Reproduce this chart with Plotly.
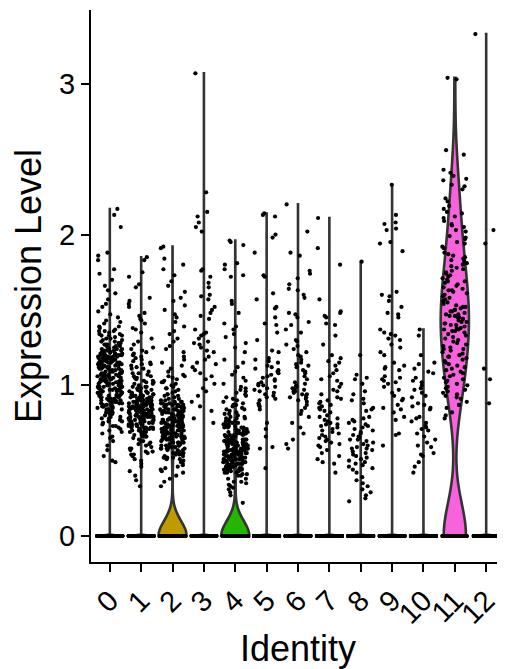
import math
import plotly.graph_objects as go

identities = ['0', '1', '2', '3', '4', '5', '6', '7', '8', '9', '10', '11', '12']
colors = ['#F8766D', '#E18A00', '#BE9C00', '#8CAB00', '#24B700', '#00BE70', '#00C1AB',
          '#00BBDA', '#00ACFC', '#8B93FF', '#D575FE', '#F962DD', '#FF65AC']

# number of cells with zero expression per identity
zero_cells = [700, 700, 1500, 300, 1500, 450, 450, 450, 450, 350, 350, 55, 200]
# KDE bandwidth used for each violin
bandwidths = [0.004, 0.004, 0.10, 0.004, 0.10, 0.004, 0.004, 0.004, 0.004, 0.004, 0.004, 0.22, 0.004]

# non-zero expression values per identity
expr_0 = [2.17, 2.13, 2.05, 1.88, 1.86, 1.83, 1.77, 1.74, 1.70, 1.66, 1.63, 1.61, 1.57, 1.54, 1.52, 1.49, 1.47, 1.45, 1.43, 1.41,
          1.39, 1.27, 1.33, 1.36, 1.29, 1.31, 1.38, 1.26, 1.34, 1.28, 1.35, 1.30, 1.37, 1.25, 1.32, 1.28, 1.36, 1.27, 1.33, 1.30,
          1.21, 1.14, 1.19, 1.23, 1.12, 1.17, 1.24, 1.11, 1.20, 1.15, 1.22, 1.13, 1.18, 1.16, 1.24, 1.10, 1.19, 1.14, 1.21, 1.17,
          1.12, 1.23, 1.15, 1.20, 1.11, 1.18, 1.13, 1.22, 1.16, 1.19, 1.14, 1.21, 1.12, 1.17, 1.23, 1.10, 1.18, 1.15, 1.20, 1.13,
          1.06, 0.99, 1.03, 1.08, 0.97, 1.01, 1.09, 0.96, 1.04, 1.00, 1.07, 0.98, 1.02, 1.05, 0.95, 1.08, 1.01, 1.04, 0.97, 1.06,
          0.99, 1.03, 1.09, 0.96, 1.02, 1.07, 1.00, 1.05, 0.98, 1.04, 1.01, 1.06, 0.97, 1.08, 1.03, 0.99, 1.05, 1.02, 0.96, 1.07,
          0.91, 0.86, 0.93, 0.82, 0.89, 0.94, 0.84, 0.88, 0.92, 0.81, 0.87, 0.90, 0.85, 0.93, 0.83, 0.89, 0.91, 0.86, 0.80, 0.88,
          0.94, 0.84, 0.90, 0.87, 0.92,
          0.78, 0.74, 0.71, 0.76, 0.69, 0.79, 0.73, 0.66, 0.77, 0.70, 0.63, 0.75, 0.60, 0.68, 0.57, 0.53, 0.50, 0.72, 0.65, 0.49,
          1.18, 0.97, 1.05, 1.22, 0.88, 1.11, 1.27, 0.93, 1.02, 1.16, 0.84, 1.09, 1.24, 0.99, 1.13, 0.91, 1.20, 1.04, 0.86, 1.15,
          1.26, 0.95, 1.07, 1.19, 0.82, 1.12, 1.01, 1.23, 0.90, 1.06, 1.17, 0.98, 1.29, 0.87, 1.10, 1.03, 1.21, 0.94, 1.14, 1.08,
          0.89, 1.25, 1.00, 1.16, 0.85, 1.12, 0.96, 1.19, 1.05, 0.92, 1.28, 1.09, 0.83, 1.14, 1.02, 1.22, 0.97, 1.07, 1.18, 0.90,
          1.31, 1.04, 0.95, 1.11, 1.24, 0.88, 1.15, 1.01, 1.20, 0.93, 1.08, 1.26, 0.99, 1.13, 0.86, 1.17, 1.06, 0.94, 1.21, 1.03,
          0.78, 1.34, 0.81, 1.39, 0.76, 1.42, 0.73, 1.36, 0.79, 1.33]
expr_1 = [1.85, 1.83, 1.75, 1.72, 1.67, 1.65, 1.58, 1.56, 1.54, 1.52, 1.48, 1.46, 1.44, 1.43, 1.41, 1.38, 1.37, 1.35, 1.31, 1.29,
          1.27, 1.24, 1.22, 1.20, 1.25, 1.18, 1.16, 1.21, 1.13, 1.19, 1.15, 1.11, 1.23, 1.17, 1.12, 1.14,
          1.08, 1.03, 0.99, 1.06, 1.01, 0.97, 1.09, 1.04, 0.96, 1.02, 1.07, 0.98, 1.05, 1.00, 0.95, 1.03, 0.99, 1.06,
          0.91, 0.86, 0.93, 0.82, 0.88, 0.94, 0.84, 0.89, 0.81, 0.92, 0.87, 0.83, 0.90, 0.85, 0.93, 0.80, 0.88, 0.91,
          0.86, 0.84, 0.89, 0.82, 0.94, 0.87, 0.90, 0.85, 0.92, 0.81, 0.88, 0.83, 0.86, 0.91, 0.84, 0.89, 0.80,
          0.77, 0.73, 0.79, 0.70, 0.75, 0.68, 0.78, 0.72, 0.66, 0.76, 0.71, 0.74, 0.69, 0.79, 0.67, 0.73, 0.77, 0.70,
          0.75, 0.65, 0.72, 0.78, 0.68, 0.74, 0.71, 0.76, 0.69, 0.73, 0.66, 0.77,
          0.63, 0.61, 0.58, 0.64, 0.56, 0.60, 0.53, 0.62, 0.55, 0.51, 0.59, 0.48, 0.54, 0.46, 0.50, 0.43, 0.57, 0.40, 0.37, 0.33,
          0.84, 0.77, 0.91, 0.72, 0.88, 0.81, 0.95, 0.69, 0.86, 0.79, 0.93, 0.74, 0.89, 0.82, 0.97, 0.67, 0.85, 0.78, 0.92, 0.71,
          0.87, 0.80, 0.96, 0.73, 0.90, 0.83, 0.76, 0.94, 0.70, 0.86, 0.79, 0.99, 0.75, 0.88, 0.81, 0.68, 0.92, 0.84, 0.77, 0.90,
          0.72, 0.85, 0.98, 0.80, 0.74, 0.89, 0.82, 0.66, 0.93, 0.78, 0.87, 0.71, 0.83, 0.96, 0.76, 0.91, 0.80, 0.69, 0.85, 0.73,
          0.88, 0.81, 0.94, 0.75, 0.86, 0.79, 1.02, 0.72, 0.90, 0.83, 0.77, 0.92, 0.70, 0.87, 0.84, 0.63, 1.05, 0.61, 1.08, 0.58,
          1.11, 0.56, 1.14, 0.54, 0.82, 0.95, 0.78, 0.89, 0.74, 0.85, 1.01, 0.67, 0.91, 0.80, 0.76, 0.93, 0.71, 0.87, 0.84, 0.79]
expr_2 = [1.92, 1.91, 1.84, 1.80, 1.77, 1.73, 1.69, 1.66, 1.62, 1.58, 1.56, 1.53, 1.50, 1.47, 1.45, 1.42, 1.39, 1.36, 1.34, 1.31,
          1.29, 1.26, 1.24, 1.22, 1.19, 1.17, 1.15, 1.13, 1.11, 1.09,
          1.07, 1.02, 0.98, 1.05, 0.95, 1.00, 0.92, 1.04, 0.97, 0.93, 1.01, 0.96, 0.91, 1.06, 0.99, 0.94, 1.03, 0.90,
          0.88, 0.83, 0.79, 0.86, 0.81, 0.77, 0.89, 0.84, 0.76, 0.82, 0.87, 0.78, 0.85, 0.80, 0.88, 0.75, 0.83, 0.86,
          0.79, 0.81, 0.84, 0.77, 0.89, 0.82, 0.76, 0.85, 0.80, 0.87, 0.78, 0.83,
          0.73, 0.68, 0.71, 0.64, 0.70, 0.66, 0.74, 0.62, 0.69, 0.72, 0.65, 0.67, 0.61, 0.73, 0.70, 0.63, 0.68, 0.74,
          0.66, 0.71, 0.60, 0.69, 0.64, 0.72, 0.67, 0.62, 0.70, 0.65, 0.73, 0.68,
          0.58, 0.55, 0.52, 0.57, 0.49, 0.54, 0.59, 0.51, 0.56, 0.47, 0.53, 0.58, 0.50, 0.55, 0.46, 0.52,
          0.44, 0.42, 0.40, 0.38, 0.36, 0.33,
          0.72, 0.64, 0.81, 0.58, 0.77, 0.69, 0.86, 0.55, 0.74, 0.66, 0.83, 0.61, 0.79, 0.71, 0.90, 0.53, 0.76, 0.68, 0.85, 0.59,
          0.73, 0.65, 0.82, 0.57, 0.78, 0.70, 0.88, 0.62, 0.75, 0.67, 0.84, 0.56, 0.80, 0.72, 0.93, 0.60, 0.77, 0.63, 0.87, 0.54,
          0.74, 0.69, 0.81, 0.58, 0.79, 0.66, 0.89, 0.61, 0.76, 0.71, 0.84, 0.52, 0.73, 0.68, 0.82, 0.64, 0.78, 0.60, 0.86, 0.57,
          0.75, 0.70, 0.91, 0.63, 0.80, 0.67, 0.83, 0.59, 0.72, 0.65, 0.88, 0.55, 0.77, 0.69, 0.85, 0.62, 0.74, 0.66, 0.94, 0.51,
          0.98, 0.48, 1.02, 0.45, 1.06, 0.43, 0.79, 0.71, 0.87, 0.64, 0.76, 0.68, 0.82, 0.60, 0.73, 0.70, 0.84, 0.58, 0.78, 0.66]
expr_3 = [3.07, 2.28, 2.15, 2.12, 2.08, 2.05, 2.02, 1.77, 1.76, 1.72, 1.68, 1.65, 1.60, 1.59, 1.57, 1.52, 1.50, 1.48, 1.46, 1.44,
          1.37, 1.35, 1.34, 1.33, 1.31, 1.29, 1.28, 1.27, 1.25, 1.23, 1.22, 1.19, 1.17, 1.15, 1.14, 1.12, 1.10, 1.08,
          1.06, 1.04, 1.01, 0.98, 0.96, 0.93, 0.89, 0.86, 0.83, 0.78, 0.75]
expr_4 = [1.96, 1.95, 1.93, 1.81, 1.80, 1.77, 1.73, 1.72, 1.56, 1.54, 1.48, 1.41, 1.39, 1.37, 1.34, 1.32, 1.28, 1.25, 1.22, 1.17,
          1.15, 1.12, 1.09, 1.07, 1.05, 1.03, 1.01,
          0.98, 0.93, 0.88, 0.96, 0.84, 0.91, 0.99, 0.86, 0.82, 0.94, 0.89, 0.81, 0.97, 0.85, 0.92, 0.87, 0.83, 0.95, 0.90, 0.80,
          0.78, 0.73, 0.69, 0.76, 0.71, 0.66, 0.79, 0.74, 0.68, 0.77, 0.72, 0.65, 0.75, 0.70, 0.67, 0.78, 0.73, 0.69,
          0.76, 0.71, 0.66, 0.74, 0.68, 0.79, 0.72,
          0.63, 0.58, 0.55, 0.61, 0.52, 0.57, 0.64, 0.50, 0.59, 0.54, 0.62, 0.56, 0.51, 0.60, 0.53, 0.58, 0.63, 0.55,
          0.61, 0.52, 0.57, 0.64, 0.50, 0.59, 0.54, 0.62, 0.56, 0.60, 0.53, 0.58, 0.51, 0.63, 0.55, 0.61, 0.57,
          0.48, 0.45, 0.42, 0.47, 0.44, 0.41, 0.49, 0.46, 0.43, 0.40, 0.48, 0.45, 0.42, 0.47, 0.44,
          0.38, 0.36, 0.34, 0.33, 0.31, 0.29, 0.27, 0.22,
          0.58, 0.51, 0.66, 0.47, 0.62, 0.55, 0.71, 0.44, 0.60, 0.53, 0.68, 0.49, 0.64, 0.57, 0.74, 0.42, 0.61, 0.54, 0.69, 0.46,
          0.59, 0.52, 0.67, 0.48, 0.63, 0.56, 0.72, 0.45, 0.60, 0.50, 0.65, 0.43, 0.57, 0.53, 0.70, 0.47, 0.62, 0.55, 0.76, 0.41,
          0.58, 0.51, 0.66, 0.49, 0.64, 0.54, 0.73, 0.46, 0.61, 0.56, 0.68, 0.44, 0.59, 0.52, 0.71, 0.48, 0.63, 0.50, 0.67, 0.45,
          0.60, 0.57, 0.75, 0.43, 0.62, 0.53, 0.69, 0.47, 0.58, 0.55, 0.65, 0.40, 0.78, 0.38, 0.81, 0.36, 0.84, 0.35, 0.87, 0.32,
          0.61, 0.54, 0.66, 0.49, 0.63, 0.57, 0.70, 0.46, 0.59, 0.52, 0.64, 0.48, 0.56, 0.51, 0.72, 0.44, 0.60, 0.55, 0.67, 0.50]
expr_5 = [2.14, 2.13, 2.12, 2.00, 1.98, 1.88, 1.73, 1.72, 1.61, 1.57, 1.52, 1.51, 1.45, 1.41, 1.40, 1.35, 1.30, 1.23, 1.22,
          1.18, 1.17, 1.15, 1.13, 1.10, 1.09, 1.06, 1.05, 1.03, 1.02, 1.00, 0.99, 0.97, 0.96, 0.93, 0.92, 0.90,
          1.08, 1.01, 0.95, 0.88, 0.86, 0.84, 0.75, 0.71, 0.66, 0.59, 0.58, 0.45,
          1.07, 0.98, 1.12, 0.94, 1.04, 0.91, 1.16, 1.00, 0.87, 1.11]
expr_6 = [2.20, 2.02, 1.88, 1.86, 1.76, 1.74, 1.71, 1.67, 1.64, 1.63, 1.60, 1.58, 1.48, 1.47, 1.45, 1.42, 1.40, 1.37, 1.35,
          1.30, 1.29, 1.27, 1.26, 1.24, 1.22, 1.20, 1.19, 1.17, 1.15, 1.13, 1.12, 1.10, 1.08, 1.06, 1.02, 1.01, 0.99,
          0.98, 0.97, 0.96, 0.95, 0.94, 0.93, 0.92, 0.91, 0.90, 0.89, 0.87, 0.85, 0.83, 0.81, 0.79, 0.75, 0.72, 0.68,
          0.64, 0.61, 0.58,
          1.00, 0.96, 1.04, 0.92, 1.09, 0.98, 1.14, 0.94]
expr_7 = [2.11, 1.91, 1.80, 1.57, 1.49, 1.48, 1.46, 1.45, 1.41, 1.40, 1.33, 1.27, 1.20, 1.18, 1.16, 1.15, 1.13, 1.10,
          1.08, 1.06, 1.04, 1.03, 1.01, 0.99, 0.97, 0.96, 0.94, 0.92, 0.90, 0.89, 0.87, 0.86, 0.84, 0.83, 0.82, 0.79,
          0.78, 0.76, 0.75, 0.74, 0.73, 0.72, 0.71, 0.70, 0.68, 0.67, 0.65, 0.64, 0.63, 0.62, 0.61, 0.60, 0.59, 0.57,
          0.55, 0.53, 0.51, 0.49, 0.48, 0.42,
          0.85, 0.77, 0.69, 0.91, 0.80, 0.66, 0.88, 0.74]
expr_8 = [1.82, 1.20, 1.07, 1.05, 1.04, 1.01, 0.96, 0.94, 0.91, 0.90, 0.88, 0.85, 0.84, 0.83, 0.79, 0.78, 0.77, 0.75,
          0.74, 0.73, 0.71, 0.70, 0.69, 0.68, 0.66, 0.65, 0.64, 0.63, 0.61, 0.60, 0.59, 0.58, 0.57, 0.56, 0.55, 0.53,
          0.52, 0.51, 0.50, 0.48, 0.47, 0.45, 0.44, 0.42, 0.39, 0.37, 0.35, 0.33, 0.31, 0.29, 0.27, 0.25, 0.23,
          0.76, 0.67, 0.62, 0.54, 0.49, 0.72, 0.58, 0.64, 0.46]
expr_9 = [2.33, 2.13, 2.08, 2.07, 2.04, 2.03, 1.95, 1.94, 1.89, 1.62, 1.60, 1.59, 1.56, 1.52, 1.48, 1.47, 1.45, 1.37,
          1.35, 1.34, 1.33, 1.31, 1.30, 1.27, 1.25, 1.22, 1.20, 1.15, 1.13, 1.12, 1.11, 1.10, 1.06, 1.05, 1.04, 1.03,
          1.02, 1.01, 0.99, 0.97, 0.95, 0.93, 0.91, 0.90, 0.87, 0.85, 0.84, 0.82, 0.79, 0.77, 0.68, 0.67, 0.60]
expr_10 = [1.37, 1.33, 1.20, 1.15, 1.14, 1.11, 1.09, 1.08, 1.05, 1.03, 1.02, 1.00, 0.98, 0.97, 0.95, 0.93, 0.92, 0.88,
           0.87, 0.86, 0.85, 0.84, 0.79, 0.78, 0.76, 0.75, 0.73, 0.72, 0.71, 0.70, 0.68, 0.66, 0.64, 0.62, 0.60, 0.59,
           0.55, 0.54, 0.53, 0.49, 0.46, 0.42]
expr_11 = [3.04, 3.03, 2.56, 2.53, 2.43, 2.41, 2.39, 2.37, 2.36, 2.33, 2.32, 2.30, 2.24, 2.22, 2.19, 2.17, 2.15, 2.14,
           2.12, 2.09, 2.06, 2.05, 2.02, 2.11, 2.07, 2.03, 1.99, 1.97, 1.94, 1.92, 1.98, 1.95, 1.91,
           1.88, 1.84, 1.83, 1.79, 1.78, 1.75, 1.74, 1.71, 1.69, 1.68, 1.65, 1.63, 1.62, 1.59, 1.58, 1.56,
           1.87, 1.81, 1.77, 1.76, 1.72, 1.66, 1.64, 1.60, 1.86, 1.80, 1.70, 1.61, 1.85, 1.73, 1.67, 1.57, 1.82, 1.69,
           1.63, 1.55,
           1.54, 1.51, 1.50, 1.47, 1.46, 1.43, 1.42, 1.39, 1.38, 1.35, 1.34, 1.53, 1.52, 1.49, 1.48, 1.45, 1.44, 1.41,
           1.40, 1.37, 1.36, 1.33, 1.52, 1.47, 1.44, 1.40, 1.36, 1.50, 1.46, 1.42, 1.38, 1.49, 1.45, 1.41, 1.37,
           1.31, 1.28, 1.25, 1.21, 1.19, 1.16, 1.13, 1.11, 1.30, 1.27, 1.23, 1.20, 1.18, 1.14, 1.12, 1.29, 1.24, 1.17,
           1.26, 1.22, 1.15, 1.10, 1.32, 1.19, 1.24,
           1.09, 1.07, 1.04, 1.03, 1.01, 0.98, 0.97, 0.94, 0.93, 0.91, 0.89, 1.08, 1.05, 1.00, 0.96, 0.92, 1.06, 1.02,
           0.99, 0.95,
           0.87, 0.85, 0.82, 0.80, 0.78]
expr_12 = [3.33, 2.03, 1.94, 1.11, 1.04, 0.88]

nonzero = [expr_0, expr_1, expr_2, expr_3, expr_4, expr_5, expr_6,
           expr_7, expr_8, expr_9, expr_10, expr_11, expr_12]

FONT = 'Liberation Sans, Arial, sans-serif'
JITTER_HALF_WIDTH = 0.4  # like geom_jitter(width = 0.4)


def jitter_offset(k, group):
    # deterministic hash-based horizontal jitter in [-0.4, 0.4]
    h = math.sin(k * 12.9898 + group * 78.233 + 1.7) * 43758.5453
    return ((h - math.floor(h)) - 0.5) * 2 * JITTER_HALF_WIDTH


fig = go.Figure()
# violins (drawn first)
for i, ident in enumerate(identities):
    vals = [0.0] * zero_cells[i] + nonzero[i]
    fig.add_trace(go.Violin(
        x=[i] * len(vals), y=vals, name=ident,
        width=0.9, scalemode='width', spanmode='hard', bandwidth=bandwidths[i],
        points=False,
        line=dict(color='#333333', width=2.6),
        fillcolor=colors[i], opacity=1,
        box_visible=False, meanline_visible=False,
        hoverinfo='skip', showlegend=False,
    ))

# jittered cells on top
for i, ident in enumerate(identities):
    vals = [0.0] * zero_cells[i] + nonzero[i]
    xs = [i + jitter_offset(k, i) for k in range(len(vals))]
    fig.add_trace(go.Scatter(
        x=xs, y=vals, mode='markers', name=ident,
        marker=dict(size=4.2, color='black', line=dict(width=0)),
        hoverinfo='skip', showlegend=False,
    ))

axis_common = dict(
    showline=True, linecolor='black', linewidth=2.2,
    ticks='outside', ticklen=8, tickwidth=2.2, tickcolor='black',
    showgrid=False, zeroline=False, automargin=False,
    tickfont=dict(family=FONT, size=29, color='black'),
)

# the page body adds an 8px margin, so the figure is 8px smaller on each axis
fig.update_layout(
    width=497, height=661,
    margin=dict(l=83, r=0, t=2, b=107),
    paper_bgcolor='white', plot_bgcolor='white',
    violinmode='overlay', showlegend=False,
    font=dict(family=FONT, color='black'),
    xaxis=dict(
        range=[-0.6, 12.6], tickmode='array', tickvals=list(range(len(identities))), ticktext=identities,
        tickangle=-45,
        title=dict(text='Identity', font=dict(family=FONT, size=36, color='black'), standoff=21),
        **axis_common,
    ),
    yaxis=dict(
        range=[-0.1725, 3.49], tickmode='array', tickvals=[0, 1, 2, 3], ticktext=['0', '1', '2', '3'],
        title=dict(text='Expression Level', font=dict(family=FONT, size=36, color='black'), standoff=10),
        **axis_common,
    ),
)

fig.write_html('out.html')
